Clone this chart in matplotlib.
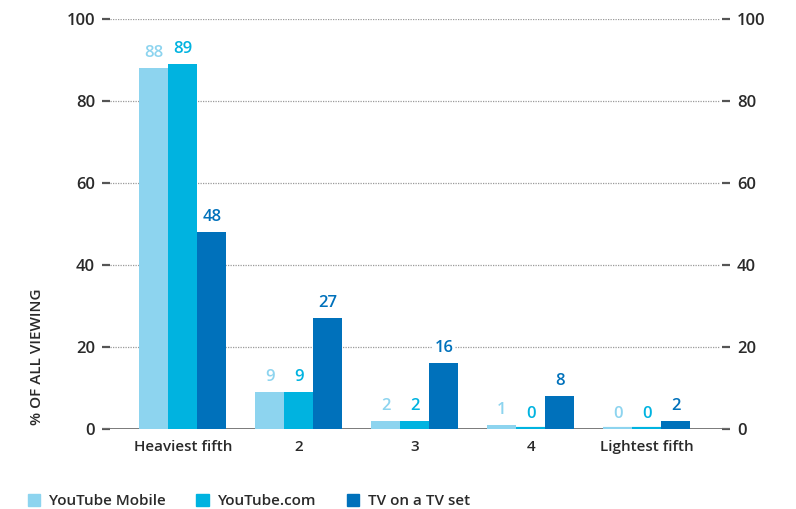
import matplotlib
matplotlib.use("Agg")
import matplotlib.pyplot as plt
import numpy as np
from matplotlib.patches import Patch

# ── Data ──────────────────────────────────────────────────────────────────────
groups = ["Heaviest fifth", "2", "3", "4", "Lightest fifth"]
yt_mobile = [88, 9, 2, 1, 0]
yt_com = [89, 9, 2, 0, 0]
tv_set = [48, 27, 16, 8, 2]
series = [("YouTube Mobile", yt_mobile, "#8DD4EF"),
          ("YouTube.com", yt_com, "#00B3E0"),
          ("TV on a TV set", tv_set, "#0071BB")]
yticks = [0, 20, 40, 60, 80, 100]

TXT = "#2a2a2a"
plt.rcParams["font.family"] = ["Open Sans", "DejaVu Sans"]
plt.rcParams["font.weight"] = "semibold"

fig = plt.figure(figsize=(7.96, 5.09), dpi=100)
ax = fig.add_axes([102 / 796, 80 / 509, 628 / 796, 410 / 509])

x = np.arange(len(groups))
w = 0.25
for k, (name, vals, col) in enumerate(series):
    pos = x + (k - 1) * w
    lw = [3 if v == 0 else 0 for v in vals]
    ax.bar(pos, vals, width=w, color=col, edgecolor=col, linewidth=lw, zorder=3)
    for xp, v in zip(pos, vals):
        ax.annotate(f"{v}", (xp, v), xytext=(0, 5), textcoords="offset points",
                    ha="center", va="bottom", color=col, fontsize=12,
                    fontweight="semibold", zorder=4,
                    bbox=dict(fc="white", ec="none", pad=1))

# dotted gridlines between the inward ticks
for yv in yticks[1:]:
    ax.hlines(yv, 0.013, 0.984, transform=ax.get_yaxis_transform(),
              colors="#9a9a9a", linestyles=(0, (1, 1)), linewidth=0.9, zorder=1)
ax.axhline(0, color="#6f6f6f", lw=1.3, zorder=2)

ax.set_xlim(-0.698, 4.716)
ax.set_ylim(0, 100)
ax.set_yticks(yticks)
ax.set_xticks(x, groups)
for s in ax.spines.values():
    s.set_visible(False)

ax.tick_params(axis="y", direction="in", length=6, width=1.6, color="#555555",
               left=True, right=True, labelleft=True, labelright=True,
               labelsize=12, labelcolor=TXT, pad=5)
ax.tick_params(axis="x", length=0, labelsize=11, labelcolor=TXT, pad=8)

fig.text(37 / 796, 1 - 357 / 509, "% OF ALL VIEWING", rotation=90,
         ha="center", va="center", fontsize=11, color=TXT)

handles = [Patch(color=c) for _, _, c in series]
fig.legend(handles, [n for n, _, _ in series], loc="center left",
           bbox_to_anchor=(14 / 796, 1 - 501 / 509), ncol=3, frameon=False,
           fontsize=11, handlelength=0.8, handleheight=0.8, handletextpad=0.6,
           columnspacing=2.0, labelcolor=TXT)

fig.savefig("out.png", dpi=100)
